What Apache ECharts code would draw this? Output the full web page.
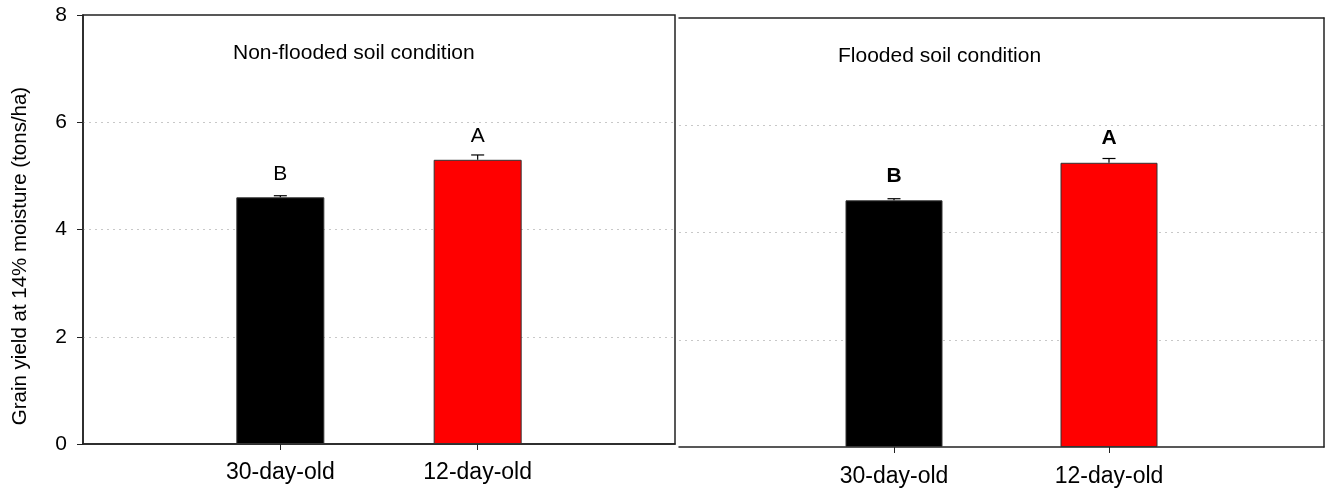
<!DOCTYPE html>
<html>
<head>
<meta charset="utf-8">
<style>html,body{margin:0;padding:0;background:#fff}#c{width:1327px;height:491px}</style>
<script src="https://cdn.jsdelivr.net/npm/echarts@6/dist/echarts.min.js"></script>
</head>
<body>
<div id="c"></div>
<script>
var categories = ['', '30-day-old', '12-day-old', ''];
var nonFloodedValues = [4.6, 5.3];
var nonFloodedErrors = [0.03, 0.09];
var floodedValues = [4.6, 5.3];
var floodedErrors = [0.03, 0.08];
var letters = ['B', 'A'];
var yTicks = [0, 2, 4, 6, 8];
var barColors = ['#000000', '#ff0000'];
var panelTitles = ['Non-flooded soil condition', 'Flooded soil condition'];
var yAxisTitle = 'Grain yield at 14% moisture (tons/ha)';

var FONT = 'Liberation Sans, Arial, sans-serif';
var chart = echarts.init(document.getElementById('c'));

function barData(vals) {
  return categories.map(function (c, i) {
    if (i === 1 || i === 2) {
      return { value: vals[i - 1], itemStyle: { color: barColors[i - 1] } };
    }
    return '-';
  });
}
function errData(vals, errs) {
  return vals.map(function (v, i) { return [i + 1, v, v + errs[i]]; });
}
function renderErr(params, api) {
  var x = api.value(0);
  var top = api.coord([x, api.value(2)]);
  var base = api.coord([x, api.value(1)]);
  var hw = 6.5;
  return {
    type: 'group',
    children: [
      { type: 'line', shape: { x1: top[0], y1: base[1], x2: top[0], y2: top[1] }, style: { stroke: '#000', lineWidth: 1.2 } },
      { type: 'line', shape: { x1: top[0] - hw, y1: top[1], x2: top[0] + hw, y2: top[1] }, style: { stroke: '#000', lineWidth: 1.2 } }
    ]
  };
}
function xAxisBase(gi, margin) {
  return {
    type: 'category', gridIndex: gi, data: categories, boundaryGap: false,
    axisLine: { show: true, onZero: false, lineStyle: { color: '#222', width: 1.5 } },
    axisTick: { show: true, inside: false, length: 6, lineStyle: { color: '#222' },
      interval: function (idx) { return idx === 1 || idx === 2; } },
    axisLabel: { show: true, interval: 0, margin: margin, fontSize: 23, color: '#000', fontFamily: FONT },
    splitLine: { show: false }
  };
}
function yAxisBase(gi, showLabels) {
  return {
    type: 'value', gridIndex: gi, min: 0, max: 8, interval: 2,
    axisLine: { show: showLabels, onZero: false, lineStyle: { color: '#222', width: 1.5 } },
    axisTick: { show: showLabels, inside: false, length: 6, lineStyle: { color: '#222' } },
    axisLabel: { show: showLabels, margin: 16, fontSize: 21, color: '#000', fontFamily: FONT,
      formatter: function (v) { return yTicks.indexOf(v) >= 0 ? String(v) : ''; } },
    splitLine: { show: true, showMinLine: false, showMaxLine: false, lineStyle: { color: '#c8c8c8', type: [2, 4], width: 1 } }
  };
}

var xTop2 = { type: 'category', gridIndex: 1, position: 'top', data: categories, boundaryGap: false,
  axisLine: { show: true, onZero: false, lineStyle: { color: '#222', width: 1.5 } }, axisTick: { show: false }, axisLabel: { show: false } };
var yRight2 = { type: 'value', gridIndex: 1, position: 'right', min: 0, max: 8, interval: 2,
  axisLine: { show: true, onZero: false, lineStyle: { color: '#222', width: 1.5 } }, axisTick: { show: false }, axisLabel: { show: false }, splitLine: { show: false } };

function letterLabel(bold, dist) {
  return { show: true, position: 'top', distance: dist, fontSize: 21, color: '#000', fontFamily: FONT,
    fontWeight: bold ? 'bold' : 'normal',
    formatter: function (p) { return letters[p.dataIndex - 1]; } };
}

chart.setOption({
  animation: false,
  backgroundColor: '#fff',
  title: [
    { text: panelTitles[0], left: 228, top: 38, textStyle: { fontSize: 21, fontWeight: 'normal', color: '#000', fontFamily: FONT } },
    { text: panelTitles[1], left: 833, top: 41, textStyle: { fontSize: 21, fontWeight: 'normal', color: '#000', fontFamily: FONT } }
  ],
  graphic: [
    { type: 'text', x: 20, y: 256, rotation: Math.PI / 2,
      style: { text: yAxisTitle, fontSize: 20.5, fill: '#000', fontFamily: FONT, align: 'center', verticalAlign: 'middle' } }
  ],
  grid: [
    { left: 83, top: 15, width: 592, height: 429, show: true, borderColor: '#222', borderWidth: 1.5, backgroundColor: 'transparent' },
    { left: 679, top: 18, width: 646, height: 429, show: false }
  ],
  xAxis: [xAxisBase(0, 17), xAxisBase(1, 18), xTop2],
  yAxis: [yAxisBase(0, true), yAxisBase(1, false), yRight2],
  series: [
    { type: 'bar', xAxisIndex: 0, yAxisIndex: 0, barWidth: 88, data: barData(nonFloodedValues),
      itemStyle: { borderColor: '#333', borderWidth: 1 }, label: letterLabel(false, 13) },
    { type: 'custom', xAxisIndex: 0, yAxisIndex: 0, renderItem: renderErr, data: errData(nonFloodedValues, nonFloodedErrors), z: 5 },
    { type: 'bar', xAxisIndex: 1, yAxisIndex: 1, barWidth: 97, data: barData(floodedValues),
      itemStyle: { borderColor: '#333', borderWidth: 1 }, label: letterLabel(true, 14) },
    { type: 'custom', xAxisIndex: 1, yAxisIndex: 1, renderItem: renderErr, data: errData(floodedValues, floodedErrors), z: 5 }
  ]
});
</script>
</body>
</html>
